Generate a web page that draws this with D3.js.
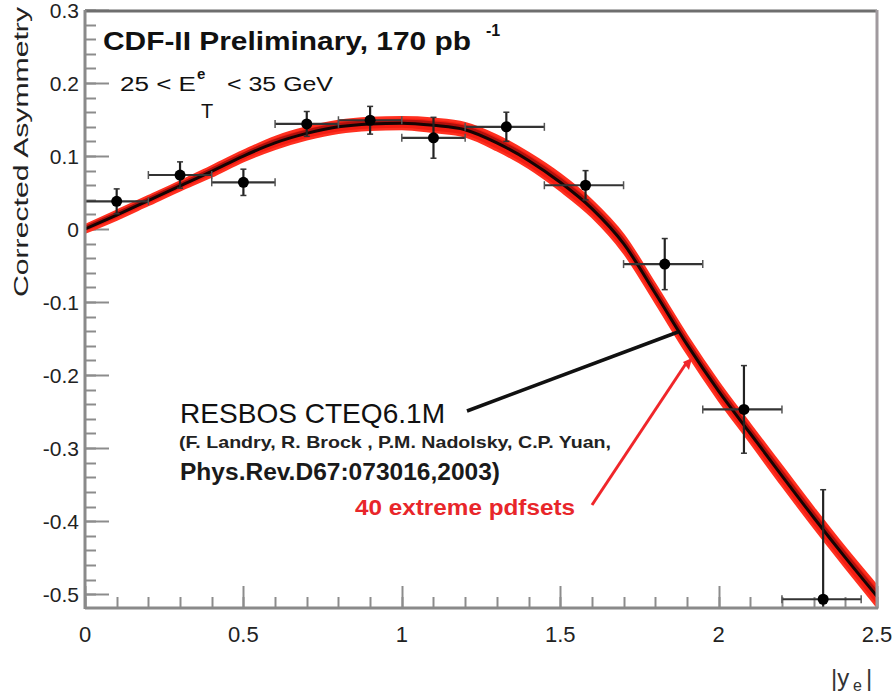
<!DOCTYPE html>
<html>
<head>
<meta charset="utf-8">
<script src="https://cdn.jsdelivr.net/npm/d3@7"></script>
<style>
  html, body { margin: 0; padding: 0; background: #fff; }
  svg { display: block; font-family: "Liberation Sans", Arial, Helvetica, sans-serif; }
</style>
</head>
<body>
<svg id="chart" width="892" height="696"></svg>
<script>
// ---- data ----
const ptX    = [0.1, 0.3, 0.5, 0.7, 0.9, 1.1, 1.33, 1.58, 1.83, 2.08, 2.33];
const ptY    = [0.038, 0.074, 0.064, 0.144, 0.149, 0.125, 0.140, 0.060, -0.048, -0.247, -0.507];
const ptXLo  = [0.0, 0.2, 0.4, 0.6, 0.8, 1.0, 1.2, 1.45, 1.7, 1.95, 2.2];
const ptXHi  = [0.2, 0.4, 0.6, 0.8, 1.0, 1.2, 1.45, 1.7, 1.95, 2.2, 2.45];
const ptYErr = [0.017, 0.018, 0.018, 0.017, 0.019, 0.028, 0.020, 0.020, 0.035, 0.060, 0.150];

const curveX = [0.0, 0.1, 0.2, 0.3, 0.4, 0.5, 0.6, 0.7, 0.8, 0.9, 1.0, 1.1, 1.2, 1.3, 1.4, 1.5, 1.6, 1.7, 1.8, 1.9, 2.0, 2.1, 2.2, 2.3, 2.4, 2.5];
const curveY = [0.000, 0.019, 0.039, 0.059, 0.079, 0.100, 0.118, 0.131, 0.140, 0.144, 0.145, 0.142, 0.136, 0.118, 0.094, 0.064, 0.028, -0.020, -0.088, -0.158, -0.222, -0.280, -0.338, -0.395, -0.450, -0.503];
const bandHalf = [0.005, 0.006, 0.006, 0.006, 0.007, 0.007, 0.008, 0.008, 0.008, 0.008, 0.008, 0.009, 0.009, 0.010, 0.010, 0.011, 0.011, 0.012, 0.012, 0.012, 0.012, 0.012, 0.013, 0.013, 0.013, 0.014];

const xTickLabels = ["0", "0.5", "1", "1.5", "2", "2.5"];
const xTickValues = [0, 0.5, 1, 1.5, 2, 2.5];
const yTickValues = [-0.5, -0.4, -0.3, -0.2, -0.1, 0, 0.1, 0.2, 0.3];
const yTickLabels = ["-0.5", "-0.4", "-0.3", "-0.2", "-0.1", "0", "0.1", "0.2", "0.3"];

// ---- layout ----
const svg = d3.select("#chart");
const L = 85, R = 877, T = 10, B = 608;
const x = d3.scaleLinear().domain([0, 2.5]).range([L, R]);
const y = d3.scaleLinear().domain([-0.519, 0.3]).range([B, T]);

const axisCol = "#8c8c8c";

svg.append("clipPath").attr("id", "clip").append("rect")
  .attr("x", L).attr("y", T).attr("width", R - L).attr("height", B - T);

// ---- axes (ROOT style: ticks inside) ----
const yMinor = d3.range(-0.5, 0.3001, 0.02);
svg.append("g").selectAll("line").data(yMinor).join("line")
  .attr("x1", L).attr("x2", L + 11)
  .attr("y1", d => Math.round(y(d)) + 0.5).attr("y2", d => Math.round(y(d)) + 0.5)
  .attr("stroke", axisCol).attr("stroke-width", 2);
svg.append("g").selectAll("line").data(yTickValues).join("line")
  .attr("x1", L).attr("x2", L + 24)
  .attr("y1", d => Math.round(y(d)) + 0.5).attr("y2", d => Math.round(y(d)) + 0.5)
  .attr("stroke", axisCol).attr("stroke-width", 2);
svg.append("g").selectAll("text").data(yTickValues).join("text")
  .attr("x", 79).attr("y", d => y(d) + 7.5)
  .attr("text-anchor", "end").attr("font-size", 21).attr("fill", "#222")
  .text((d, i) => yTickLabels[i]);

const xMinor = d3.range(0, 2.5001, 0.1);
svg.append("g").selectAll("line").data(xMinor).join("line")
  .attr("x1", d => Math.round(x(d)) + 0.5).attr("x2", d => Math.round(x(d)) + 0.5)
  .attr("y1", B).attr("y2", B - 11)
  .attr("stroke", axisCol).attr("stroke-width", 2);
svg.append("g").selectAll("line").data(xTickValues).join("line")
  .attr("x1", d => Math.round(x(d)) + 0.5).attr("x2", d => Math.round(x(d)) + 0.5)
  .attr("y1", B).attr("y2", B - 22)
  .attr("stroke", axisCol).attr("stroke-width", 2);
svg.append("g").selectAll("text").data(xTickValues).join("text")
  .attr("x", d => x(d)).attr("y", 642)
  .attr("text-anchor", "middle").attr("font-size", 22).attr("fill", "#222")
  .text((d, i) => xTickLabels[i]);

// ---- theory band + curve ----
const plot = svg.append("g").attr("clip-path", "url(#clip)");
const curveData = curveX.map((cx, i) => ({x: cx, y: curveY[i], h: bandHalf[i]}));
const area = d3.area().curve(d3.curveMonotoneX)
  .x(d => x(d.x)).y0(d => y(d.y - d.h)).y1(d => y(d.y + d.h));
plot.append("path").datum(curveData).attr("d", area)
  .attr("fill", "#f21d12").attr("stroke", "#ff3020").attr("stroke-width", 2.5);
plot.append("path").datum(curveData)
  .attr("d", d3.line().curve(d3.curveMonotoneX).x(d => x(d.x)).y(d => y(d.y + d.h * 0.3)))
  .attr("fill", "none").attr("stroke", "#b0100c").attr("stroke-width", 4);
plot.append("path").datum(curveData)
  .attr("d", d3.line().curve(d3.curveMonotoneX).x(d => x(d.x)).y(d => y(d.y)))
  .attr("fill", "none").attr("stroke", "#140404").attr("stroke-width", 3);

// ---- data points ----
const pts = ptX.map((px, i) => ({x: px, y: ptY[i], lo: ptXLo[i], hi: ptXHi[i], e: ptYErr[i]}));
const gp = plot.append("g");
gp.selectAll(".hx").data(pts).join("line")
  .attr("x1", d => x(d.lo)).attr("x2", d => x(d.hi))
  .attr("y1", d => y(d.y)).attr("y2", d => y(d.y))
  .attr("stroke", "#333").attr("stroke-width", 2.2);
gp.selectAll(".capL").data(pts).join("line")
  .attr("x1", d => x(d.lo)).attr("x2", d => x(d.lo))
  .attr("y1", d => y(d.y) - 4).attr("y2", d => y(d.y) + 4)
  .attr("stroke", "#555").attr("stroke-width", 1.5);
gp.selectAll(".capR").data(pts).join("line")
  .attr("x1", d => x(d.hi)).attr("x2", d => x(d.hi))
  .attr("y1", d => y(d.y) - 4).attr("y2", d => y(d.y) + 4)
  .attr("stroke", "#555").attr("stroke-width", 1.5);
gp.selectAll(".vy").data(pts).join("line")
  .attr("x1", d => x(d.x)).attr("x2", d => x(d.x))
  .attr("y1", d => y(d.y + d.e)).attr("y2", d => y(d.y - d.e))
  .attr("stroke", "#222").attr("stroke-width", 2.2);
gp.selectAll(".capT").data(pts).join("line")
  .attr("x1", d => x(d.x) - 3).attr("x2", d => x(d.x) + 3)
  .attr("y1", d => y(d.y + d.e)).attr("y2", d => y(d.y + d.e))
  .attr("stroke", "#333").attr("stroke-width", 1.5);
gp.selectAll(".capB").data(pts).join("line")
  .attr("x1", d => x(d.x) - 3).attr("x2", d => x(d.x) + 3)
  .attr("y1", d => y(d.y - d.e)).attr("y2", d => y(d.y - d.e))
  .attr("stroke", "#333").attr("stroke-width", 1.5);
gp.selectAll("circle").data(pts).join("circle")
  .attr("cx", d => x(d.x)).attr("cy", d => y(d.y)).attr("r", 5.5)
  .attr("fill", "#000");

// ---- frame ----
svg.append("line").attr("x1", L).attr("x2", R).attr("y1", 11).attr("y2", 11)
  .attr("stroke", "#6e6e6e").attr("stroke-width", 3);
svg.append("line").attr("x1", R).attr("x2", R).attr("y1", 10).attr("y2", B + 1)
  .attr("stroke", "#a09a9e").attr("stroke-width", 3);
svg.append("line").attr("x1", L).attr("x2", L).attr("y1", 10).attr("y2", B + 1)
  .attr("stroke", "#8a8a8a").attr("stroke-width", 3);
svg.append("line").attr("x1", L).attr("x2", R + 1).attr("y1", B).attr("y2", B)
  .attr("stroke", "#8a8a8a").attr("stroke-width", 3);

// ---- titles ----
svg.append("text").attr("x", 103).attr("y", 50)
  .attr("font-size", 25).attr("font-weight", "bold").attr("fill", "#111")
  .attr("textLength", 368).attr("lengthAdjust", "spacingAndGlyphs")
  .text("CDF-II Preliminary, 170 pb");
svg.append("text").attr("x", 486).attr("y", 36)
  .attr("font-size", 16).attr("font-weight", "bold").attr("fill", "#111")
  .text("-1");

svg.append("text").attr("x", 120).attr("y", 91)
  .attr("font-size", 20).attr("fill", "#111")
  .attr("textLength", 76).attr("lengthAdjust", "spacingAndGlyphs")
  .text("25 < E");
svg.append("text").attr("x", 197).attr("y", 79)
  .attr("font-size", 15).attr("font-weight", "bold").attr("fill", "#111").text("e");
svg.append("text").attr("x", 201).attr("y", 118)
  .attr("font-size", 20).attr("fill", "#111").text("T");
svg.append("text").attr("x", 227).attr("y", 91)
  .attr("font-size", 20).attr("fill", "#111")
  .attr("textLength", 106).attr("lengthAdjust", "spacingAndGlyphs")
  .text("< 35 GeV");

// y axis title
svg.append("text")
  .attr("transform", "translate(28,297) rotate(-90)")
  .attr("font-size", 20).attr("fill", "#222")
  .attr("textLength", 290).attr("lengthAdjust", "spacingAndGlyphs")
  .text("Corrected Asymmetry");

// x axis title |y_e|
svg.append("text").attr("x", 831).attr("y", 686)
  .attr("font-size", 24).attr("fill", "#333").text("|y");
svg.append("text").attr("x", 853).attr("y", 691)
  .attr("font-size", 16).attr("fill", "#333").text("e");
svg.append("text").attr("x", 866).attr("y", 686)
  .attr("font-size", 24).attr("fill", "#333").text("|");

// ---- annotations ----
svg.append("text").attr("x", 180).attr("y", 423)
  .attr("font-size", 28).attr("fill", "#111")
  .attr("textLength", 265).attr("lengthAdjust", "spacingAndGlyphs")
  .text("RESBOS CTEQ6.1M");
svg.append("text").attr("x", 179).attr("y", 448)
  .attr("font-size", 17).attr("font-weight", "bold").attr("fill", "#222")
  .attr("textLength", 432).attr("lengthAdjust", "spacingAndGlyphs")
  .text("(F. Landry, R. Brock , P.M. Nadolsky, C.P. Yuan,");
svg.append("text").attr("x", 180).attr("y", 480)
  .attr("font-size", 23).attr("font-weight", "bold").attr("fill", "#1a1a1a")
  .attr("textLength", 320).attr("lengthAdjust", "spacingAndGlyphs")
  .text("Phys.Rev.D67:073016,2003)");
svg.append("text").attr("x", 355).attr("y", 515)
  .attr("font-size", 22).attr("font-weight", "bold").attr("fill", "#e8262a")
  .attr("textLength", 220).attr("lengthAdjust", "spacingAndGlyphs")
  .text("40 extreme pdfsets");

// pointer lines
svg.append("line").attr("x1", 467).attr("y1", 411).attr("x2", 678).attr("y2", 332)
  .attr("stroke", "#111").attr("stroke-width", 3.5);
svg.append("line").attr("x1", 592).attr("y1", 505).attr("x2", 687).attr("y2", 362)
  .attr("stroke", "#f0262a").attr("stroke-width", 3);
svg.append("path").attr("d", "M683,362 L692,358 L689,370 Z").attr("fill", "#f0262a");
</script>
</body>
</html>
